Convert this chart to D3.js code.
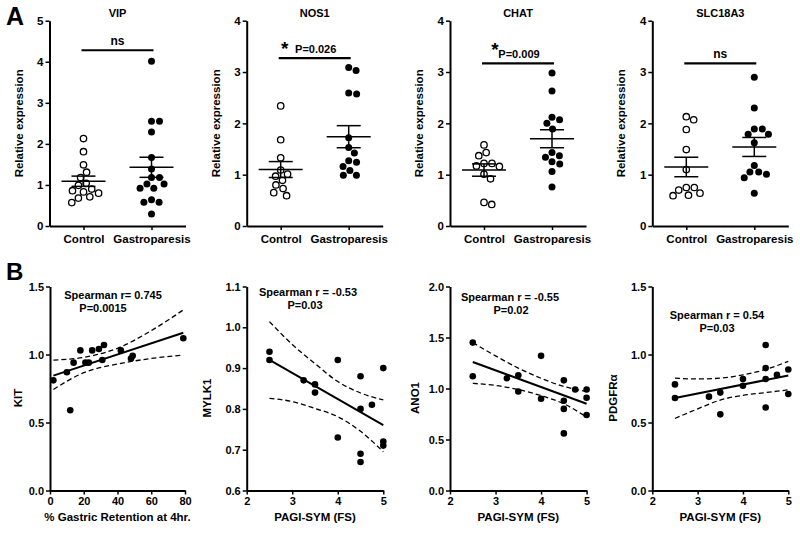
<!DOCTYPE html>
<html><head><meta charset="utf-8">
<script src="https://cdn.jsdelivr.net/npm/d3@7"></script>
<style>
body{margin:0;background:#fff}
svg text{font-family:"Liberation Sans",Arial,sans-serif;font-weight:bold;fill:#000}
</style>
</head><body>
<svg id="chart" width="800" height="534"></svg>
<script>
// ---------- DATA ----------
const groups = ["Control", "Gastroparesis"];

const vipControl = [2.13, 1.81, 1.49, 1.31, 1.18, 1.04, 0.99, 0.90, 0.86, 0.83, 0.80, 0.71, 0.68, 0.57];
const vipGastro  = [4.01, 2.55, 2.55, 2.29, 1.67, 1.39, 1.18, 1.18, 1.02, 1.02, 0.92, 0.92, 0.64, 0.58, 0.58, 0.29];
const vipMean = [1.09, 1.43];
const vipSem  = [0.125, 0.245];

const nos1Control = [2.34, 1.68, 1.33, 1.09, 1.01, 0.97, 0.89, 0.80, 0.73, 0.65, 0.59];
const nos1Gastro  = [3.09, 3.03, 2.59, 2.57, 1.72, 1.53, 1.42, 1.27, 1.24, 1.16, 1.08, 0.99, 0.99];
const nos1Mean = [1.10, 1.74];
const nos1Sem  = [0.155, 0.215];

const chatControl = [1.58, 1.43, 1.37, 1.22, 1.22, 1.17, 1.16, 1.01, 0.92, 0.46, 0.42];
const chatGastro  = [2.98, 2.63, 2.12, 2.07, 2.00, 1.89, 1.43, 1.37, 1.34, 1.25, 1.21, 1.06, 0.76];
const chatMean = [1.09, 1.70];
const chatSem  = [0.12, 0.175];

const slcControl = [2.13, 2.07, 1.88, 1.49, 1.10, 0.75, 0.75, 0.70, 0.64, 0.60, 0.59];
const slcGastro  = [2.90, 2.30, 1.89, 1.89, 1.79, 1.79, 1.62, 1.18, 1.05, 1.05, 1.01, 0.94, 0.64];
const slcMean = [1.15, 1.54];
const slcSem  = [0.19, 0.185];

// Panel B scatter data
const kitX = [2, 10, 12, 14, 18, 21, 23, 25, 29, 31, 32, 42, 48, 49, 79];
const kitY = [0.81, 0.87, 0.59, 0.94, 1.03, 0.94, 0.94, 1.03, 1.04, 0.96, 1.07, 1.03, 0.97, 0.99, 1.12];
const kitFitX = [2, 79];
const kitFitY = [0.845, 1.16];
const kitBandX = [2, 20, 40, 59, 79];
const kitBandUpper = [0.959, 0.979, 1.046, 1.168, 1.328];
const kitBandLower = [0.743, 0.866, 0.930, 0.969, 0.996];

const mylkX = [2.5, 2.5, 3.25, 3.5, 3.5, 4.0, 4.0, 4.5, 4.5, 4.5, 4.5, 4.75, 5, 5, 5];
const mylkY = [0.94, 0.92, 0.87, 0.86, 0.84, 0.92, 0.73, 0.88, 0.80, 0.69, 0.67, 0.81, 0.90, 0.72, 0.71];
const mylkFitX = [2.5, 5];
const mylkFitY = [0.92, 0.76];
const pagiBandX = [2.5, 3, 3.5, 4, 4.5, 5];
const mylkBandUpper = [1.014, 0.958, 0.911, 0.867, 0.839, 0.822];
const mylkBandLower = [0.826, 0.818, 0.801, 0.781, 0.745, 0.695];

const anoX = [2.5, 2.5, 3.25, 3.5, 3.5, 4.0, 4.0, 4.5, 4.5, 4.5, 4.5, 4.75, 5, 5, 5];
const anoY = [1.45, 1.12, 1.10, 1.13, 0.97, 1.32, 0.90, 1.08, 0.88, 0.80, 0.56, 0.99, 0.99, 0.91, 0.74];
const anoFitX = [2.5, 5];
const anoFitY = [1.26, 0.85];
const anoBandUpper = [1.45, 1.32, 1.20, 1.10, 1.02, 0.97];
const anoBandLower = [1.05, 1.03, 0.99, 0.93, 0.85, 0.72];

const pdgX = [2.5, 2.5, 3.25, 3.5, 3.5, 4.0, 4.0, 4.5, 4.5, 4.5, 4.5, 4.75, 5, 5];
const pdgY = [0.78, 0.68, 0.69, 0.72, 0.56, 0.82, 0.77, 1.07, 0.90, 0.82, 0.61, 0.85, 0.89, 0.71];
const pdgFitX = [2.5, 5];
const pdgFitY = [0.68, 0.845];
const pdgBandUpper = [0.826, 0.82, 0.826, 0.85, 0.89, 0.95];
const pdgBandLower = [0.53, 0.60, 0.665, 0.70, 0.72, 0.74];

// ---------- LAYOUT ----------
const svg = d3.select("#chart");
const W = 136;
const FONT = 11;

const panelsA = [
  {title: "VIP",     c: vipControl,  g: vipGastro,  mean: vipMean,  sem: vipSem,  ymax: 5, left: 49.5,  barV: 4.28, sig: "ns"},
  {title: "NOS1",    c: nos1Control, g: nos1Gastro, mean: nos1Mean, sem: nos1Sem, ymax: 4, left: 246.7, barV: 3.27, sig: "P=0.026", starDx: 4,  starDy: -13},
  {title: "CHAT",    c: chatControl, g: chatGastro, mean: chatMean, sem: chatSem, ymax: 4, left: 450,   barV: 3.17, sig: "P=0.009", starDx: 11, starDy: -17},
  {title: "SLC18A3", c: slcControl,  g: slcGastro,  mean: slcMean,  sem: slcSem,  ymax: 4, left: 652.3, barV: 3.17, sig: "ns"}
];
const topA = 20.7, botA = 226;

function styleAxis(sel) {
  sel.select(".domain").attr("stroke", "#000").attr("stroke-width", 2);
  sel.selectAll(".tick line").attr("stroke", "#000").attr("stroke-width", 1.5);
  sel.selectAll(".tick text").attr("font-size", FONT).attr("fill", "#000");
}

// beeswarm layout (compact, closest to center)
function swarm(vals, yScale, cx, d) {
  const pts = vals.map(v => ({v, y: yScale(v)}));
  const placed = [];
  const order = pts.slice().sort((a, b) => b.v - a.v);
  for (const p of order) {
    const cands = [0];
    for (const q of placed) {
      const dy = Math.abs(q.y - p.y);
      if (dy < d) {
        const dx = Math.sqrt(d * d - dy * dy);
        cands.push(q.off + dx, q.off - dx);
      }
    }
    cands.sort((a, b) => Math.abs(a) - Math.abs(b));
    for (const c of cands) {
      if (placed.every(q => Math.hypot(q.off - c, q.y - p.y) >= d - 1e-6)) { p.off = c; break; }
    }
    placed.push(p);
  }
  return pts.map(p => ({v: p.v, y: p.y, x: cx + p.off}));
}

panelsA.forEach(p => {
  const g = svg.append("g");
  const x = d3.scalePoint().domain(groups).range([p.left, p.left + W]).padding(0.5);
  const y = d3.scaleLinear().domain([0, p.ymax]).range([botA, topA]);

  const ya = g.append("g").attr("transform", `translate(${p.left},0)`)
    .call(d3.axisLeft(y).tickValues(d3.range(0, p.ymax + 1)).tickFormat(d3.format("d"))
      .tickSize(4).tickPadding(2).tickSizeOuter(0));
  styleAxis(ya);
  ya.selectAll(".tick text").attr("font-size", 11.5);
  const xa = g.append("g").attr("transform", `translate(0,${botA})`)
    .call(d3.axisBottom(x).tickSize(4).tickPadding(5).tickSizeOuter(0));
  styleAxis(xa);
  xa.selectAll(".tick text").attr("font-size", 11.5);

  // title
  g.append("text").attr("x", p.left + W / 2).attr("y", 17).attr("text-anchor", "middle")
    .attr("font-size", FONT).text(p.title);
  // y label
  g.append("text").attr("transform", `translate(${p.left - 27},${(topA + botA) / 2}) rotate(-90)`)
    .attr("text-anchor", "middle").attr("font-size", 11.5).text("Relative expression");

  // dots
  const cPts = swarm(p.c, y, x(groups[0]), 8);
  const gPts = swarm(p.g, y, x(groups[1]), 8);
  g.selectAll(".cdot").data(cPts).join("circle")
    .attr("cx", d => d.x).attr("cy", d => d.y).attr("r", 3.2)
    .attr("fill", "#fff").attr("stroke", "#000").attr("stroke-width", 1.3);
  g.selectAll(".gdot").data(gPts).join("circle")
    .attr("cx", d => d.x).attr("cy", d => d.y).attr("r", 3.5).attr("fill", "#000");

  // mean +/- SEM
  groups.forEach((grp, k) => {
    const cx = x(grp), m = p.mean[k], s = p.sem[k];
    g.append("line").attr("x1", cx - 22).attr("x2", cx + 22).attr("y1", y(m)).attr("y2", y(m))
      .attr("stroke", "#000").attr("stroke-width", 1.5);
    g.append("line").attr("x1", cx).attr("x2", cx).attr("y1", y(m - s)).attr("y2", y(m + s))
      .attr("stroke", "#000").attr("stroke-width", 1.5);
    [m - s, m + s].forEach(v => g.append("line").attr("x1", cx - 12).attr("x2", cx + 12)
      .attr("y1", y(v)).attr("y2", y(v)).attr("stroke", "#000").attr("stroke-width", 1.5));
  });

  // significance bar
  const by = y(p.barV);
  const x0 = x(groups[0]) - 2, x1 = x(groups[1]) + 2;
  g.append("line").attr("x1", x0).attr("x2", x1).attr("y1", by).attr("y2", by)
    .attr("stroke", "#000").attr("stroke-width", 2.2);
  if (p.sig === "ns") {
    g.append("text").attr("x", (x0 + x1) / 2).attr("y", by - 5).attr("text-anchor", "middle")
      .attr("font-size", 12).text("ns");
  } else {
    g.append("text").attr("x", (x0 + x1) / 2 + 1).attr("y", by - 5).attr("text-anchor", "middle")
      .attr("font-size", FONT).text(p.sig);
    g.append("text").attr("x", x(groups[0]) + p.starDx).attr("y", by + p.starDy + 10)
      .attr("text-anchor", "middle").attr("font-size", 19).text("*");
  }
});

// Panel letters
svg.append("text").attr("x", 6).attr("y", 25).attr("font-size", 25).text("A");
svg.append("text").attr("x", 6).attr("y", 280).attr("font-size", 24).text("B");

// ---------- PANEL B ----------
const topB = 286.5, botB = 490.5;
const panelsB = [
  {xs: kitX, ys: kitY, fitX: kitFitX, fitY: kitFitY, bx: kitBandX, bu: kitBandUpper, bl: kitBandLower,
   xDom: [0, 80], xTicks: [0, 20, 40, 60, 80], yDom: [0, 1.5], yTicks: [0, 0.5, 1.0, 1.5],
   left: 50, xw: 135, ylab: "KIT", ylabDx: 28, xlab: "% Gastric Retention at 4hr.",
   t1: "Spearman r= 0.745", t2: "P=0.0015", tx: 113, tx2: 103, ty: 299},
  {xs: mylkX, ys: mylkY, fitX: mylkFitX, fitY: mylkFitY, bx: pagiBandX, bu: mylkBandUpper, bl: mylkBandLower,
   xDom: [2, 5], xTicks: [2, 3, 4, 5], yDom: [0.6, 1.1], yTicks: [0.6, 0.7, 0.8, 0.9, 1.0, 1.1],
   left: 246.7, xw: 136.6, ylab: "MYLK1", ylabDx: 36, xlab: "PAGI-SYM (FS)",
   t1: "Spearman r = -0.53", t2: "P=0.03", tx: 308, tx2: 305, ty: 295.5},
  {xs: anoX, ys: anoY, fitX: anoFitX, fitY: anoFitY, bx: pagiBandX, bu: anoBandUpper, bl: anoBandLower,
   xDom: [2, 5], xTicks: [2, 3, 4, 5], yDom: [0, 2.0], yTicks: [0, 0.5, 1.0, 1.5, 2.0],
   left: 450, xw: 136.6, ylab: "ANO1", ylabDx: 31, xlab: "PAGI-SYM (FS)",
   t1: "Spearman r = -0.55", t2: "P=0.02", tx: 510, tx2: 511, ty: 300.5},
  {xs: pdgX, ys: pdgY, fitX: pdgFitX, fitY: pdgFitY, bx: pagiBandX, bu: pdgBandUpper, bl: pdgBandLower,
   xDom: [2, 5], xTicks: [2, 3, 4, 5], yDom: [0, 1.5], yTicks: [0, 0.5, 1.0, 1.5],
   left: 652.3, xw: 136, ylab: "PDGFRα", ylabDx: 35, xlab: "PAGI-SYM (FS)",
   t1: "Spearman r = 0.54", t2: "P=0.03", tx: 717, tx2: 717, ty: 318.5}
];

panelsB.forEach(p => {
  const g = svg.append("g");
  const x = d3.scaleLinear().domain(p.xDom).range([p.left, p.left + p.xw]);
  const y = d3.scaleLinear().domain(p.yDom).range([botB, topB]);

  const ya = g.append("g").attr("transform", `translate(${p.left},0)`)
    .call(d3.axisLeft(y).tickValues(p.yTicks).tickFormat(d3.format(".1f"))
      .tickSize(4).tickPadding(2).tickSizeOuter(0));
  styleAxis(ya);
  const xa = g.append("g").attr("transform", `translate(0,${botB})`)
    .call(d3.axisBottom(x).tickValues(p.xTicks).tickFormat(d3.format("d"))
      .tickSize(4).tickPadding(3).tickSizeOuter(0));
  styleAxis(xa);

  g.append("text").attr("transform", `translate(${p.left - p.ylabDx},${398}) rotate(-90)`)
    .attr("text-anchor", "middle").attr("font-size", 11.5).text(p.ylab);
  g.append("text").attr("x", p.left + p.xw / 2).attr("y", 521).attr("text-anchor", "middle")
    .attr("font-size", 11.5).text(p.xlab);

  // confidence bands
  const band = (vals) => d3.line().x((d, i) => x(p.bx[i])).y(d => y(d)).curve(d3.curveMonotoneX)(vals);
  [p.bu, p.bl].forEach(arr => g.append("path").attr("d", band(arr)).attr("fill", "none")
    .attr("stroke", "#000").attr("stroke-width", 1.3).attr("stroke-dasharray", "5,3"));
  // fit line
  g.append("line").attr("x1", x(p.fitX[0])).attr("x2", x(p.fitX[1]))
    .attr("y1", y(p.fitY[0])).attr("y2", y(p.fitY[1])).attr("stroke", "#000").attr("stroke-width", 2);

  // dots
  g.selectAll(".pt").data(p.xs.map((v, i) => [v, p.ys[i]])).join("circle")
    .attr("cx", d => x(d[0])).attr("cy", d => y(d[1])).attr("r", 3.3).attr("fill", "#000");

  g.append("text").attr("x", p.tx).attr("y", p.ty).attr("text-anchor", "middle").attr("font-size", FONT).text(p.t1);
  g.append("text").attr("x", p.tx2).attr("y", p.ty + 13).attr("text-anchor", "middle").attr("font-size", FONT).text(p.t2);
});
</script>
</body></html>
